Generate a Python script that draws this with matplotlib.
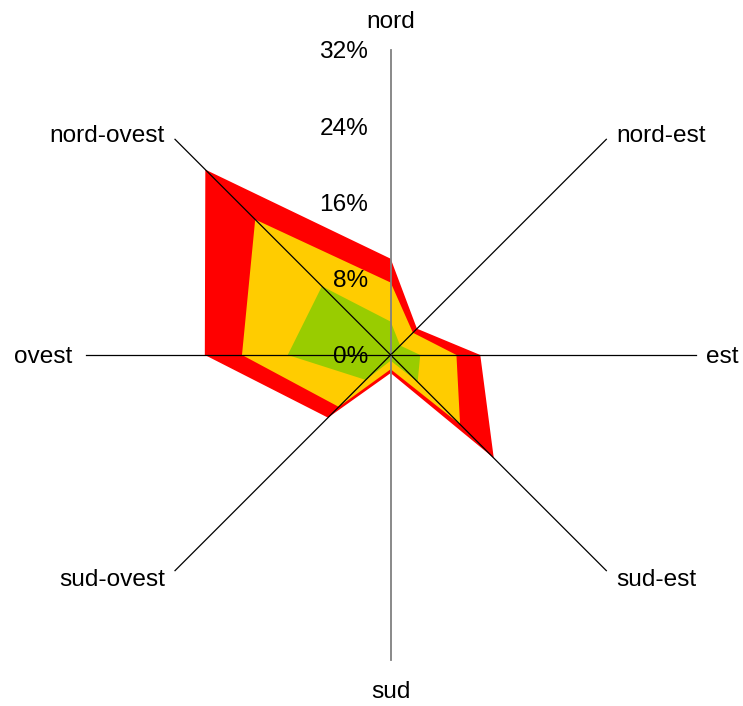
import numpy as np
import matplotlib
matplotlib.use('Agg')
import matplotlib.pyplot as plt

plt.rcParams['font.family'] = ['Liberation Sans', 'DejaVu Sans']

# Data (percent)
categories = ['nord', 'nord-est', 'est', 'sud-est', 'sud', 'sud-ovest', 'ovest', 'nord-ovest']
red_vals = [10.1, 3.9, 9.4, 15.3, 1.9, 9.3, 19.5, 27.5]
yellow_vals = [7.6, 3.3, 6.9, 10.3, 1.5, 7.7, 15.6, 20.1]
green_vals = [3.5, 1.4, 3.1, 4.0, 0.6, 3.7, 10.8, 10.2]
ticks = [0, 8, 16, 24, 32]
rmax = 32

n = len(categories)
angles = np.arange(n) * 2 * np.pi / n

fig = plt.figure(figsize=(7.43, 7.06), dpi=100)
ax = fig.add_axes([0.1153, 0.0652, 0.821, 0.864], projection='polar')
ax.set_theta_zero_location('N')
ax.set_theta_direction(-1)
ax.set_ylim(0, rmax)
ax.grid(False)
ax.set_xticks([])
ax.set_yticks([])
ax.spines['polar'].set_visible(False)
ax.patch.set_visible(False)

# Filled series, largest first
for vals, col in [(red_vals, '#FF0000'), (yellow_vals, '#FFCC00'), (green_vals, '#99CC00')]:
    th = np.append(angles, angles[0])
    rr = np.append(vals, vals[0])
    ax.fill(th, rr, color=col, linewidth=0, zorder=2)

# Axis spokes
for i, a in enumerate(angles):
    if i in (0, 4):
        ax.plot([a, a], [0, rmax], color='#808080', lw=1.3, zorder=3, clip_on=False)
    else:
        ax.plot([a, a], [0, rmax], color='black', lw=0.9, zorder=3, clip_on=False)

fs = 17.6
dy = -1.8  # small downward nudge for all text

# Tick labels on the north axis
for t in ticks:
    ax.annotate(f'{t}%', xy=(0, t), xytext=(-16.3, dy), textcoords='offset points',
                ha='right', va='center', fontsize=fs, zorder=4, annotation_clip=False)

# Category labels
offsets = [((0, 21.6), 'center'), ((7.2, 4.3), 'left'), ((7.2, 0), 'left'),
           ((7.2, -5), 'left'), ((0, -21.6), 'center'), ((-7.2, -5), 'right'),
           ((-9.6, 0), 'right'), ((-7.2, 4.3), 'right')]
for a, lab, (off, ha) in zip(angles, categories, offsets):
    ax.annotate(lab, xy=(a, rmax), xytext=(off[0], off[1] + dy), textcoords='offset points',
                ha=ha, va='center', fontsize=fs, annotation_clip=False)

plt.savefig('out.png', dpi=100)
